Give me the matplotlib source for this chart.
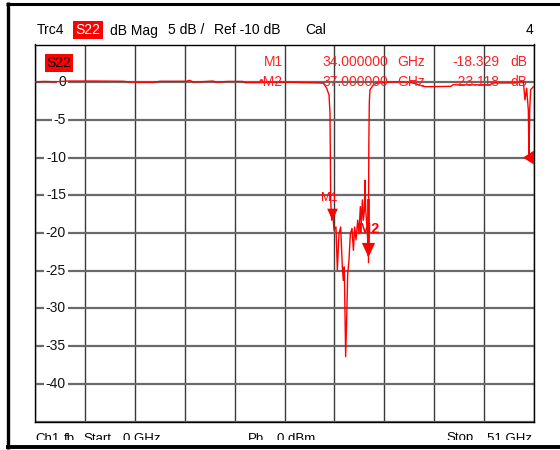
import matplotlib
matplotlib.use("Agg")
import matplotlib.pyplot as plt
from matplotlib.patches import Rectangle, Polygon
from matplotlib.lines import Line2D
from matplotlib.transforms import blended_transform_factory
import numpy as np

plt.rcParams['font.family'] = ['Liberation Sans', 'DejaVu Sans']

# ---------------- data ----------------
freq_ghz = [0.0, 1.0, 2.0, 3.3, 6.0, 9.0, 10.0, 12.0, 12.8, 15.5, 15.8, 16.2, 18.2, 18.5,
            19.7, 21.2, 21.5, 23.0, 24.0, 26.0, 27.5, 29.0, 29.47, 29.81, 30.05, 30.15,
            30.22, 30.32, 30.43, 30.56, 30.76, 30.9, 31.07, 31.24, 31.41, 31.51, 31.61,
            31.75, 31.86, 31.96, 32.09, 32.23, 32.4, 32.54, 32.67, 32.81, 32.98, 33.11,
            33.25, 33.35, 33.46, 33.56, 33.66, 33.73, 33.8, 33.95, 34.07, 34.12, 34.17,
            34.24, 34.58, 34.92, 36.0, 37.5, 38.5, 39.7, 40.0, 42.5, 42.7, 46.5, 46.8,
            49.0, 49.91, 50.08, 50.25, 50.42, 50.49, 50.56, 50.66, 50.93, 51.0]
s22_db = [0.05, 0.1, 0.05, 0.15, 0.15, 0.12, 0.0, -0.02, 0.12, 0.12, 0.25, 0.0, 0.15, 0.0,
          0.1, 0.1, -0.05, -0.05, 0.0, 0.0, -0.05, -0.1, -0.13, -0.8, -1.7, -4.1,
          -15.6, -18.3, -17.4, -19.6, -19.2, -24.9, -20.1, -19.2, -24.5, -26.3, -24.5,
          -36.4, -31.1, -25.4, -23.6, -20.1, -19.4, -22.3, -19.2, -20.9, -18.3, -20.1,
          -16.5, -18.7, -15.6, -18.3, -17.0, -13.0, -17.0, -19.5, -23.1, -8.0, -2.6,
          -1.0, -0.36, -0.13, 0.0, 0.05, -0.05, -0.55, -0.6, -0.55, -0.35, -0.35, -0.1,
          -0.1, 0.1, -2.35, -0.8, -3.7, -9.9, -3.7, -1.0, -0.6, -0.6]

marker_names = ["M1", "M2"]
marker_pos_ghz = [30.32, 34.07]          # where markers sit on the screen axis
marker_readout_ghz = [34.0, 37.0]        # readout frequencies
marker_readout_db = [-18.329, -23.118]   # readout values

y_tick_vals = [0, -5, -10, -15, -20, -25, -30, -35, -40]
start_ghz, stop_ghz = 0, 51
ref_level_db = -10
db_per_div = 5

# ---------------- figure ----------------
W, H = 560, 450
fig = plt.figure(figsize=(W / 100, H / 100), dpi=100)
fig.patch.set_facecolor('white')

def fx(px):
    return px / W

def fy(py):
    return 1 - py / H

L, R, T, B = 35, 534, 44.5, 421.5
ax = fig.add_axes([fx(L), fy(B), (R - L) / W, (B - T) / H])
ax.set_xlim(start_ghz, stop_ghz)
top_db = ref_level_db + 3 * db_per_div
ax.set_ylim(top_db - 10 * db_per_div, top_db)

ax.set_xticks(np.linspace(start_ghz, stop_ghz, 11))
ax.set_yticks(np.arange(top_db - 10 * db_per_div, top_db + 0.1, db_per_div))
ax.tick_params(length=0, labelbottom=False, labelleft=False)
ax.xaxis.grid(True, color='#3a3a3a', lw=1.0, zorder=0)
ax.yaxis.grid(True, color='#6a6a6a', lw=1.6, zorder=0)
ax.set_axisbelow(True)
for s in ax.spines.values():
    s.set_color('black')
    s.set_linewidth(1.0)

# y labels inside the plot
tr = blended_transform_factory(ax.transAxes, ax.transData)
for v in y_tick_vals:
    ax.text((66 - L) / (R - L), v, "%d" % v if v != 0 else "0", transform=tr,
            ha='right', va='center', fontsize=10, color='#111111', zorder=2,
            bbox=dict(facecolor='white', edgecolor='none', pad=1.2))

# trace
ax.plot(freq_ghz, s22_db, color='#ff0000', lw=1.0, zorder=4, clip_on=True)

# markers
tri = [(0, 0), (-0.5, 1.1), (0.5, 1.1), (0, 0)]
sizes = [17, 21]
for name, mf, mv, ms in zip(marker_names, marker_pos_ghz, marker_readout_db, sizes):
    ax.plot([mf], [mv], marker=tri, markersize=ms, color='#ff0000',
            markeredgewidth=0, linestyle='none', zorder=5)
    if name == "M1":
        ax.annotate(name, xy=(mf, mv), xytext=(-1.5, 16), textcoords='offset points',
                    ha='center', va='center', fontsize=8.5, color='#ff0000', zorder=6)
    else:
        ax.plot([mf, mf], [mv + 2.0, mv + 7.5], color='#ff0000', lw=2.0, zorder=5)
        ax.plot([mf, mf], [mv, mv - 0.7], color='#ff0000', lw=1.0, zorder=5)
        ax.annotate(name, xy=(mf, mv), xytext=(0.5, 20), textcoords='offset points',
                    ha='center', va='center', fontsize=10.5, fontweight='bold',
                    color='#ff0000', zorder=6)

# reference level indicator
tri_w = 11 * (stop_ghz - start_ghz) / (R - L)
tri_h = 7 * (10 * db_per_div) / (B - T)
ax.add_patch(Polygon([(stop_ghz - tri_w, ref_level_db), (stop_ghz, ref_level_db + tri_h),
                      (stop_ghz, ref_level_db - tri_h)], closed=True,
                     facecolor='#ff0000', edgecolor='none', zorder=6, clip_on=False))

# inner trace label
fig.patches.append(Rectangle((fx(45), fy(71.7)), (72.7 - 45) / W, (71.7 - 54.3) / H,
                             transform=fig.transFigure, facecolor='#ff0000',
                             edgecolor='none', zorder=5))
fig.text(fx(58.9), fy(63.3), "S22", ha='center', va='center', fontsize=10,
         color='black', zorder=6)

# marker readout
rows_y = [62.5, 81.5]
for i, (name, rf, rv) in enumerate(zip(marker_names, marker_readout_ghz, marker_readout_db)):
    y = rows_y[i]
    lab = name if i == 0 else "\u2022" + name
    fig.text(fx(283), fy(y), lab, ha='right', va='center', fontsize=10, color='#ff2020', zorder=6)
    fig.text(fx(388), fy(y), "%.6f" % rf, ha='right', va='center', fontsize=10,
             color='#ff2020', zorder=6)
    fig.text(fx(397), fy(y), "GHz", ha='left', va='center', fontsize=10, color='#ff2020', zorder=6)
    fig.text(fx(499), fy(y), "%.3f" % rv, ha='right', va='center', fontsize=10,
             color='#ff2020', zorder=6)
    fig.text(fx(510), fy(y), "dB", ha='left', va='center', fontsize=10, color='#ff2020', zorder=6)

# header
hy = 30.5
fig.text(fx(36.5), fy(hy), "Trc4", ha='left', va='center', fontsize=10, color='black')
fig.patches.append(Rectangle((fx(73.3), fy(39)), 30 / W, 18 / H, transform=fig.transFigure,
                             facecolor='#ff0000', edgecolor='none'))
fig.text(fx(88.3), fy(hy), "S22", ha='center', va='center', fontsize=10, color='white')
fig.text(fx(110), fy(hy), "dB Mag", ha='left', va='center', fontsize=10, color='black')
fig.text(fx(168), fy(hy), "%d dB /" % db_per_div, ha='left', va='center', fontsize=10, color='black')
fig.text(fx(214), fy(hy), "Ref -%d dB" % abs(ref_level_db), ha='left', va='center', fontsize=10,
         color='black')
fig.text(fx(305), fy(hy), "Cal", ha='left', va='center', fontsize=10, color='black')
fig.text(fx(533), fy(hy), "4", ha='right', va='center', fontsize=10, color='black')

# footer (partially clipped in the original)
fy_top = 432.5
for x, s, ha in [(35, "Ch1", 'left'), (64, "fb", 'left'), (83, "Start", 'left'),
                 (123, "%d GHz" % start_ghz, 'left'), (248, "Pb", 'left'),
                 (277, "0 dBm", 'left'), (446, "Stop", 'left'),
                 (532, "%d GHz" % stop_ghz, 'right')]:
    fig.text(fx(x), fy(fy_top), s, ha=ha, va='top', fontsize=9.5, color='black', zorder=1)
fig.patches.append(Rectangle((0, 0), 1, (H - 440) / H, transform=fig.transFigure,
                             facecolor='white', edgecolor='none', zorder=8))

# outer frame
def fline(xs, ys, lw):
    fig.add_artist(Line2D([fx(v) for v in xs], [fy(v) for v in ys], color='black',
                          lw=lw, zorder=10, solid_capstyle='butt'))

fline([7.5, 7.5], [2, 449], 2.4)
fline([6, 560], [3.5, 3.5], 2.2)
fline([6, 560], [446.5, 446.5], 2.8)

fig.savefig("out.png", dpi=100, facecolor='white')
